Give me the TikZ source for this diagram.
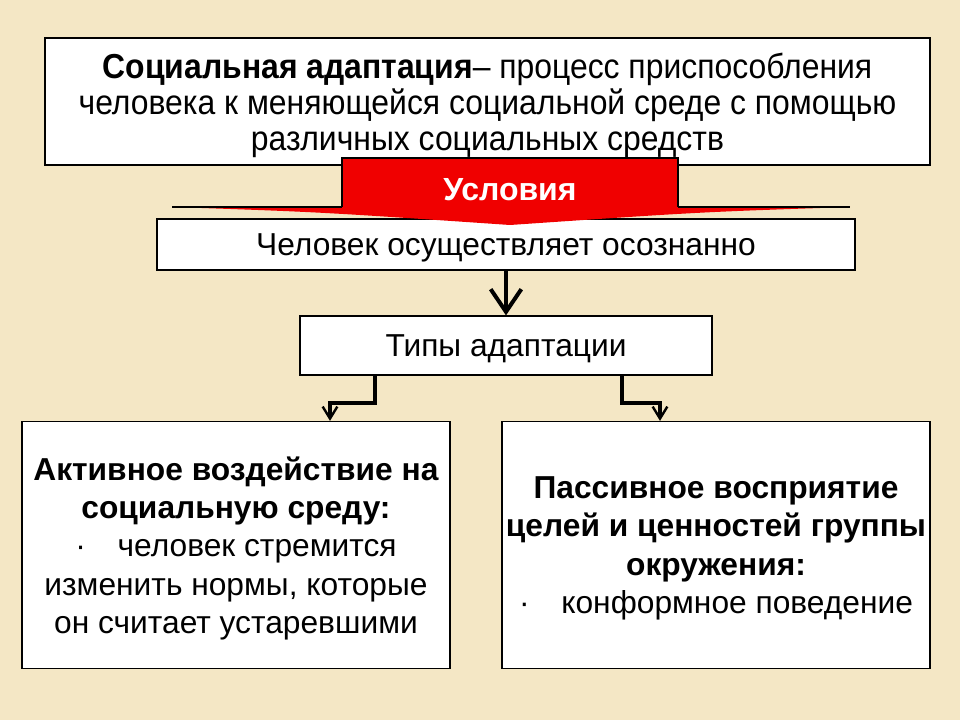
\documentclass[tikz,border=0pt]{standalone}
\usepackage{fontspec}
\setmainfont{Liberation Sans}
\newfontfamily\narrowfont{Liberation Sans}[FakeStretch=0.92]
\usetikzlibrary{arrows.meta, positioning}
\definecolor{saBack}{HTML}{F4E7C5}
\definecolor{saRed}{HTML}{F00000}

\begin{document}
\begin{tikzpicture}[x=0.75pt, y=-0.75pt,
  every node/.style={align=center, font=\fontsize{23.8}{28.8}\selectfont},
  box/.style={draw=black, fill=white, line width=0.9pt, inner sep=0pt, text depth=0pt},
  bigarrow/.style={draw=black, line width=3.6pt,
                   -{Straight Barb[length=17pt, width=23pt, line width=3pt]}},
  smallarrow/.style={draw=black, line width=2.6pt,
                     -{Straight Barb[length=9pt, width=11pt, line width=1.8pt]}}]
  \fill[saBack] (0,0) rectangle (960,720);
  \useasboundingbox (0,0) rectangle (960,720);

  % boxes
  \node[box, minimum width=663.75pt, minimum height=95.25pt,
        font=\narrowfont\fontsize{26}{27}\selectfont] (def) at (487.5,101.5)
    {\textbf{Социальная адаптация}– процесс приспособления\\
     человека к меняющейся социальной среде с помощью\\
     различных социальных средств};
  \node[box, minimum width=523.5pt, minimum height=38.25pt] (who) at (506,244.5)
    {Человек осуществляет осознанно};

  % banner
  \fill[saRed] (172,207) -- (342,207) -- (342,158) -- (678,158) -- (678,207)
    -- (850,207) .. controls (700,212) .. (510,225) .. controls (320,212) .. cycle;
  \draw[line width=0.9pt] (342,207) -- (342,158) -- (678,158) -- (678,207);
  \draw[line width=1.6pt] (172,207) -- (342,207) (678,207) -- (850,207);
  \node[text=white, text depth=0pt, font=\fontsize{24}{28}\selectfont\bfseries] (cond)
    at (510,189) {Условия};

  \node[box, minimum width=309pt, minimum height=44.25pt] (types) at (506,345.5)
    {Типы адаптации};
  \node[box, minimum width=321pt, minimum height=185.25pt] (active) at (236,545)
    {\textbf{Активное воздействие на}\\
     \textbf{социальную среду:}\\
     ·\quad человек стремится\\
     изменить нормы, которые\\
     он считает устаревшими};
  \node[box, minimum width=321pt, minimum height=185.25pt] (passive) at (716,545)
    {\textbf{Пассивное восприятие}\\
     \textbf{целей и ценностей группы}\\
     \textbf{окружения:}\\
     ·\quad конформное поведение};

  % connectors
  \coordinate (lj) at (375,403);
  \coordinate (lt) at (330,403);
  \coordinate (rj) at (622,403);
  \coordinate (rt) at (660,403);
  \draw[bigarrow] (who.south -| types.north) -- (types.north);
  \draw[smallarrow] (types.south -| lj) -- (lj) -- (lt) -- (lt |- active.north);
  \draw[smallarrow] (types.south -| rj) -- (rj) -- (rt) -- (rt |- passive.north);
\end{tikzpicture}
\end{document}
